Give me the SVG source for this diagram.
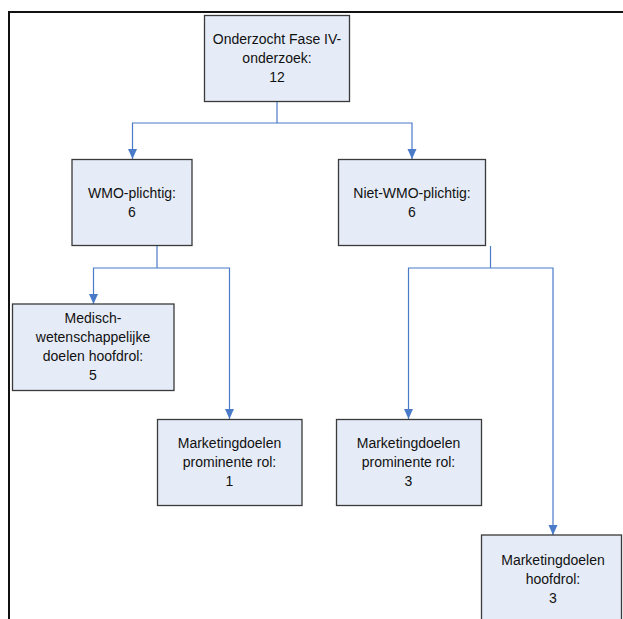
<svg xmlns="http://www.w3.org/2000/svg" width="623" height="619" viewBox="0 0 623 619">
<style>
.box{fill:#e6ecf7;stroke:#3a3a3a;stroke-width:1.3}
.t{font-family:"Liberation Sans",Arial,sans-serif;font-size:14px;fill:#111;text-anchor:middle}
.c{fill:none;stroke:#4a7bc8;stroke-width:1.2}
.frame{fill:none;stroke:#111;stroke-width:2}
</style>
<defs>
<marker id="ah" markerUnits="userSpaceOnUse" markerWidth="10" markerHeight="10" refX="10" refY="5" orient="auto">
<path d="M0,0.5 L10,5 L0,9.5 z" fill="#4a7bc8"/>
</marker>
</defs>
<rect width="623" height="619" fill="#fff"/>
<path class="frame" d="M9,620 V12 H624"/>
<g id="connectors">
<path class="c" d="M277,101 V123"/>
<path class="c" d="M277,123 H132.5 V159" marker-end="url(#ah)"/>
<path class="c" d="M277,123 H412 V159" marker-end="url(#ah)"/>
<path class="c" d="M157,246 V268"/>
<path class="c" d="M157,268 H93.5 V304" marker-end="url(#ah)"/>
<path class="c" d="M157,268 H229.5 V419" marker-end="url(#ah)"/>
<path class="c" d="M490.5,246 V268"/>
<path class="c" d="M490.5,268 H408.5 V419" marker-end="url(#ah)"/>
<path class="c" d="M490.5,268 H553 V535" marker-end="url(#ah)"/>
</g>
<g id="root">
<rect class="box" x="204.5" y="15.5" width="145" height="86"/>
<text class="t" x="277" y="44">Onderzocht Fase IV-</text>
<text class="t" x="277" y="63">onderzoek:</text>
<text class="t" x="277" y="82">12</text>
</g>
<g id="wmo">
<rect class="box" x="72" y="159.5" width="120" height="86"/>
<text class="t" x="132" y="198">WMO-plichtig:</text>
<text class="t" x="132" y="217">6</text>
</g>
<g id="nietwmo">
<rect class="box" x="338.5" y="159.5" width="147" height="86"/>
<text class="t" x="412" y="198">Niet-WMO-plichtig:</text>
<text class="t" x="412" y="217">6</text>
</g>
<g id="medisch">
<rect class="box" x="12.5" y="304" width="161.5" height="86.5"/>
<text class="t" x="93" y="323">Medisch-</text>
<text class="t" x="93" y="342">wetenschappelijke</text>
<text class="t" x="93" y="361">doelen hoofdrol:</text>
<text class="t" x="93" y="380">5</text>
</g>
<g id="mkt1">
<rect class="box" x="157.5" y="419.5" width="144.5" height="86"/>
<text class="t" x="229.5" y="448">Marketingdoelen</text>
<text class="t" x="229.5" y="467">prominente rol:</text>
<text class="t" x="229.5" y="486">1</text>
</g>
<g id="mkt3">
<rect class="box" x="336.5" y="419.5" width="145" height="86"/>
<text class="t" x="408.5" y="448">Marketingdoelen</text>
<text class="t" x="408.5" y="467">prominente rol:</text>
<text class="t" x="408.5" y="486">3</text>
</g>
<g id="mkthoofd">
<rect class="box" x="481.5" y="535" width="140" height="90"/>
<text class="t" x="553" y="565">Marketingdoelen</text>
<text class="t" x="553" y="584">hoofdrol:</text>
<text class="t" x="553" y="603">3</text>
</g>
</svg>
